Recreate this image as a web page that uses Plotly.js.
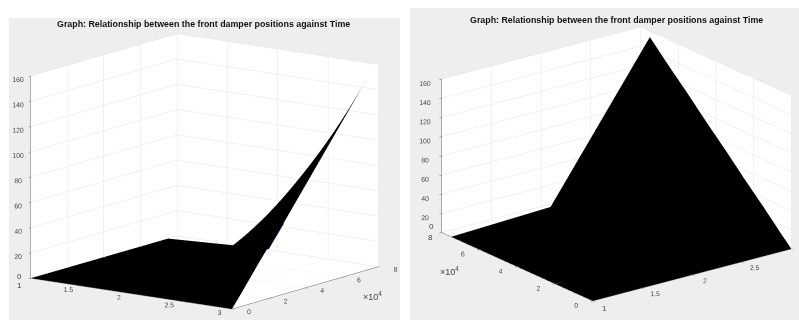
<!DOCTYPE html>
<html><head><meta charset="utf-8">
<script src="https://cdn.plot.ly/plotly-3.0.1.min.js"></script>
<style>html,body{margin:0;padding:0;background:#fff}#c{width:799px;height:320px}</style>
</head><body><div id="c"></div>
<script>
const damperPos = [1, 2, 3];
const timeVals = [0,5000,10000,15000,20000,25000,30000,35000,40000,45000,50000,55000,60000,65000,70000,75000];
const col1 = [0,0,0,0,0,0,0,0,0,0,0,0,0,0,0,0];
const col2 = [0,0.3,0.5,0.8,1,1.3,1.5,1.8,2,2.3,2.5,2.8,3,3.3,3.5,4];
const col3 = [0,10,20.5,31,41,51,61.5,72,82,92,102.5,113,123,133,143.5,154];
const edgeX = [2,2.15];
const edgeY = [75000,75000];
const edgeZ = [4,26];
const xTicks = [1,1.5,2,2.5,3];
const xLabels = ['','1.5','2','2.5','3'];
const yTicks = [0,20000,40000,60000,80000];
const yLabelsLeft = ['0','2','4','6','8'];
const yLabelsRight = ['0','2','4','6',''];
const zTicks = [0,20,40,60,80,100,120,140,160];
const zLabels = ['','20','40','60','80','100','120','140','160'];
const titleText = 'Graph: Relationship between the front damper positions against Time';

const zMatrix = timeVals.map((_, i) => [col1[i], col2[i], col3[i]]);
const tickFont = {family:'Liberation Sans', size:9, color:'#444'};
const noteFont = {family:'Liberation Sans', size:8, color:'#444'};
const expFont = {family:'Liberation Sans', size:9, color:'#444'};
function axis(range, vals, text){
  return {range, tickmode:'array', tickvals:vals, ticktext:text, tickangle:0, showgrid:true, gridcolor:'#e4e4e4', gridwidth:1,
    showline:true, linecolor:'#666', linewidth:1, ticks:'outside', ticklen:3, tickcolor:'#666',
    tickfont:tickFont, showbackground:true, backgroundcolor:'#ffffff', zeroline:false,
    title:{text:''}, showspikes:false};
}
function surf(scene){
  return {type:'surface', scene, x:damperPos, y:timeVals, z:zMatrix,
    colorscale:[[0,'#000000'],[1,'#000000']], showscale:false, hoverinfo:'skip',
    lighting:{ambient:1,diffuse:0,specular:0,roughness:1,fresnel:0}};
}
function note(x,y,z,text,xshift,yshift){
  return {x,y,z,text,xshift,yshift,showarrow:false,font:noteFont,xanchor:'center',yanchor:'middle'};
}
function sceneCfg(domain, eye, center, k, zr, yLabels, notes){
  return {domain, bgcolor:'#eeeeee',
    camera:{eye, center, up:{x:0,y:0,z:1}, projection:{type:'orthographic'}},
    aspectmode:'manual', aspectratio:{x:k,y:k,z:zr},
    xaxis:axis([1,3],xTicks,xLabels), yaxis:axis([0,80000],yTicks,yLabels), zaxis:axis([0,160],zTicks,zLabels),
    annotations:notes};
}
const W=799,H=320;
const layout = {width:W,height:H,margin:{l:0,r:0,t:0,b:0},paper_bgcolor:'#ffffff',showlegend:false,
  scene: sceneCfg({x:[9/W,400/W],y:[0,1-18/H]},{x:1.15,y:-1.58,z:0.436},{x:0,y:0,z:0.016},1.65,1.37,yLabelsLeft,
    [note(1,0,0,'0',-11,2),note(1,0,0,'1',-11,-7)]),
  scene2: sceneCfg({x:[410/W,1],y:[0,1-8/H]},{x:-1.2,y:-1.45,z:0.69},{x:-0.062,y:0.047,z:0},1.6,1.048,yLabelsRight,
    [note(1,80000,0,'0',-10,6),note(1,80000,0,'8',-11,-5),note(1,0,0,'1',12,-8)]),
  annotations:[
    {xref:'paper',yref:'paper',x:204/W,y:1-23.5/H,text:'<b>'+titleText+'</b>',showarrow:false,font:{family:'Liberation Sans',size:8.85,color:'#111'},xanchor:'center',yanchor:'middle'},
    {xref:'paper',yref:'paper',x:616.5/W,y:1-20/H,text:'<b>'+titleText+'</b>',showarrow:false,font:{family:'Liberation Sans',size:8.85,color:'#111'},xanchor:'center',yanchor:'middle'},
    {xref:'paper',yref:'paper',x:372/W,y:1-296/H,text:'×10<sup>4</sup>',showarrow:false,font:expFont,xanchor:'center',yanchor:'middle'},
    {xref:'paper',yref:'paper',x:450/W,y:1-271/H,text:'×10<sup>4</sup>',showarrow:false,font:expFont,xanchor:'center',yanchor:'middle'}
  ]};
const edge = {type:'scatter3d',scene:'scene',mode:'lines',x:edgeX,y:edgeY,z:edgeZ,line:{color:'#1a1a80',width:1},hoverinfo:'skip'};
Plotly.newPlot('c',[surf('scene'),edge,surf('scene2')],layout,{displayModeBar:false});
</script></body></html>
